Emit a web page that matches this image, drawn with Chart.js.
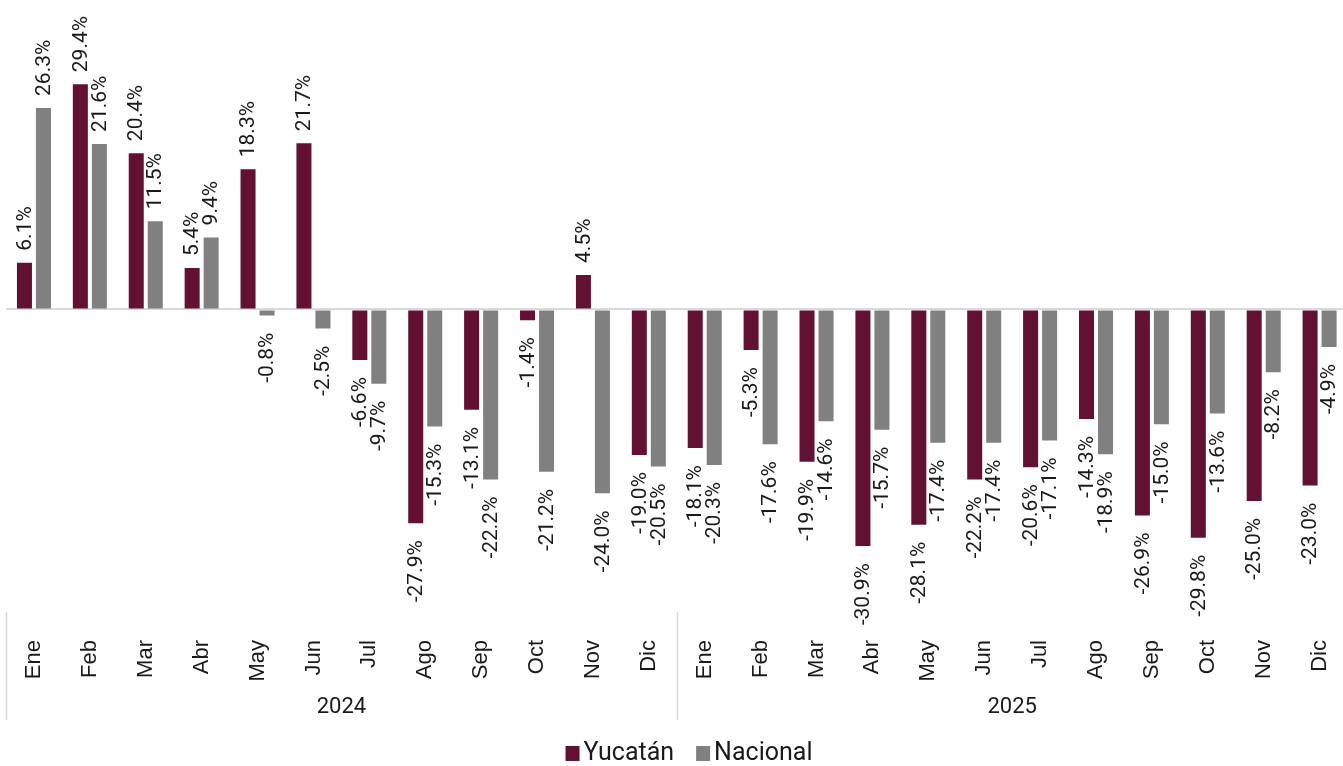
<!DOCTYPE html>
<html>
<head>
<meta charset="utf-8">
<script src="https://cdn.jsdelivr.net/npm/chart.js@4.4.0/dist/chart.umd.min.js"></script>
<style>
    html, body { margin: 0; padding: 0; background: #fff; overflow: hidden; }
    #wrap { width: 1343px; height: 766px; overflow: hidden; }
</style>
</head>
<body>
<div id="wrap"><canvas id="chart" width="1366" height="766"></canvas></div>
<script>
// Months (two years) and year groups
const months = ['Ene', 'Feb', 'Mar', 'Abr', 'May', 'Jun', 'Jul', 'Ago', 'Sep', 'Oct', 'Nov', 'Dic',
                'Ene', 'Feb', 'Mar', 'Abr', 'May', 'Jun', 'Jul', 'Ago', 'Sep', 'Oct', 'Nov', 'Dic'];
const years = ['2024', '2025'];

// Annual change, %
const yucatan = [6.1, 29.4, 20.4, 5.4, 18.3, 21.7, -6.6, -27.9, -13.1, -1.4, 4.5, -19.0,
                 -18.1, -5.3, -19.9, -30.9, -28.1, -22.2, -20.6, -14.3, -26.9, -29.8, -25.0, -23.0];
const nacional = [26.3, 21.6, 11.5, 9.4, -0.8, -2.5, -9.7, -15.3, -22.2, -21.2, -24.0, -20.5,
                  -20.3, -17.6, -14.6, -15.7, -17.4, -17.4, -17.1, -18.9, -15.0, -13.6, -8.2, -4.9];

const MAROON = '#621132';
const GRAY = '#808080';
const TEXT = '#1a1a1a';
const LABEL_FONT = '21px Roboto, "Liberation Sans", sans-serif';
const LEGEND_FONT = '25px Roboto, "Liberation Sans", sans-serif';

// value labels, rotated, at the end of each bar
const barLabels = {
    id: 'barLabels',
    afterDatasetsDraw(chart) {
        const ctx = chart.ctx;
        ctx.save();
        ctx.font = LABEL_FONT;
        ctx.fillStyle = TEXT;
        ctx.textBaseline = 'middle';
        chart.data.datasets.forEach((ds, i) => {
            const meta = chart.getDatasetMeta(i);
            meta.data.forEach((bar, j) => {
                const v = ds.data[j];
                const txt = v.toFixed(1) + '%';
                ctx.save();
                if (v >= 0) {
                    ctx.translate(bar.x + 1, bar.y - 12);
                    ctx.rotate(-Math.PI / 2);
                    ctx.textAlign = 'left';
                } else {
                    ctx.translate(bar.x + 1, bar.y + 17);
                    ctx.rotate(-Math.PI / 2);
                    ctx.textAlign = 'right';
                }
                ctx.fillText(txt, 0, 0);
                ctx.restore();
            });
        });
        ctx.restore();
    }
};

// vertical separators between the year groups
const yearSeparators = {
    id: 'yearSeparators',
    afterDraw(chart) {
        const x = chart.scales.x;
        const x2 = chart.scales.x2;
        const ctx = chart.ctx;
        const step = (x.right - x.left) / months.length;
        ctx.save();
        ctx.strokeStyle = '#d9d9d9';
        ctx.lineWidth = 1.5;
        for (let k = 0; k <= years.length; k++) {
            const px = Math.round(x.left + k * 12 * step) + 0.5;
            ctx.beginPath();
            ctx.moveTo(px, x.top);
            ctx.lineTo(px, x2.bottom);
            ctx.stroke();
        }
        ctx.restore();
    }
};

// legend: small squares, tight gap to the text
const bottomLegend = {
    id: 'bottomLegend',
    afterDraw(chart) {
        const ctx = chart.ctx;
        const cy = 753;
        const box = 14, gap = 4, spacing = 22;
        ctx.save();
        ctx.font = LEGEND_FONT;
        ctx.textBaseline = 'middle';
        ctx.textAlign = 'left';
        const items = chart.data.datasets.map(ds => ({
            text: ds.label, color: ds.backgroundColor, w: ctx.measureText(ds.label).width
        }));
        let total = 0;
        items.forEach((it, i) => { total += box + gap + it.w + (i ? spacing : 0); });
        let x = 689 - total / 2;
        items.forEach((it) => {
            ctx.fillStyle = it.color;
            ctx.fillRect(x, cy - 7, box, 15);
            ctx.fillStyle = TEXT;
            ctx.fillText(it.text, x + box + gap, cy + 1);
            x += box + gap + it.w + spacing;
        });
        ctx.restore();
    }
};

new Chart(document.getElementById('chart'), {
    type: 'bar',
    data: {
        labels: months,
        datasets: [
            {
                label: 'Yucatán',
                data: yucatan,
                backgroundColor: MAROON,
                categoryPercentage: 0.68,
                barPercentage: 0.79
            },
            {
                label: 'Nacional',
                data: nacional,
                backgroundColor: GRAY,
                categoryPercentage: 0.68,
                barPercentage: 0.79
            }
        ]
    },
    options: {
        responsive: false,
        animation: false,
        devicePixelRatio: 1,
        layout: { padding: { left: 6, right: 0, top: 3, bottom: 46 } },
        plugins: {
            legend: { display: false },
            tooltip: { enabled: false }
        },
        scales: {
            x: {
                grid: {
                    display: true,
                    drawOnChartArea: false,
                    drawTicks: true,
                    tickLength: 8,
                    tickColor: 'rgba(0,0,0,0)'
                },
                border: { display: false },
                ticks: {
                    color: TEXT,
                    font: { family: '"Liberation Sans", Arial, sans-serif', size: 22 },
                    minRotation: 90,
                    maxRotation: 90,
                    padding: 20
                },
                afterFit: (s) => { s.height = 72; }
            },
            x2: {
                type: 'category',
                labels: years,
                position: 'bottom',
                offset: true,
                grid: { display: false },
                border: { display: false },
                ticks: {
                    color: TEXT,
                    font: { family: 'Roboto', size: 22 },
                    padding: 2
                },
                afterFit: (s) => { s.height = 36; }
            },
            y: {
                min: -39.5,
                max: 40,
                ticks: { display: false, stepSize: 10 },
                border: { display: false },
                grid: {
                    drawTicks: false,
                    lineWidth: 2,
                    color: (c) => (c.tick && c.tick.value === 0 ? '#d9d9d9' : 'rgba(0,0,0,0)')
                },
                afterFit: (s) => { s.width = 0; }
            }
        }
    },
    plugins: [barLabels, yearSeparators, bottomLegend]
});
</script>
</body>
</html>
